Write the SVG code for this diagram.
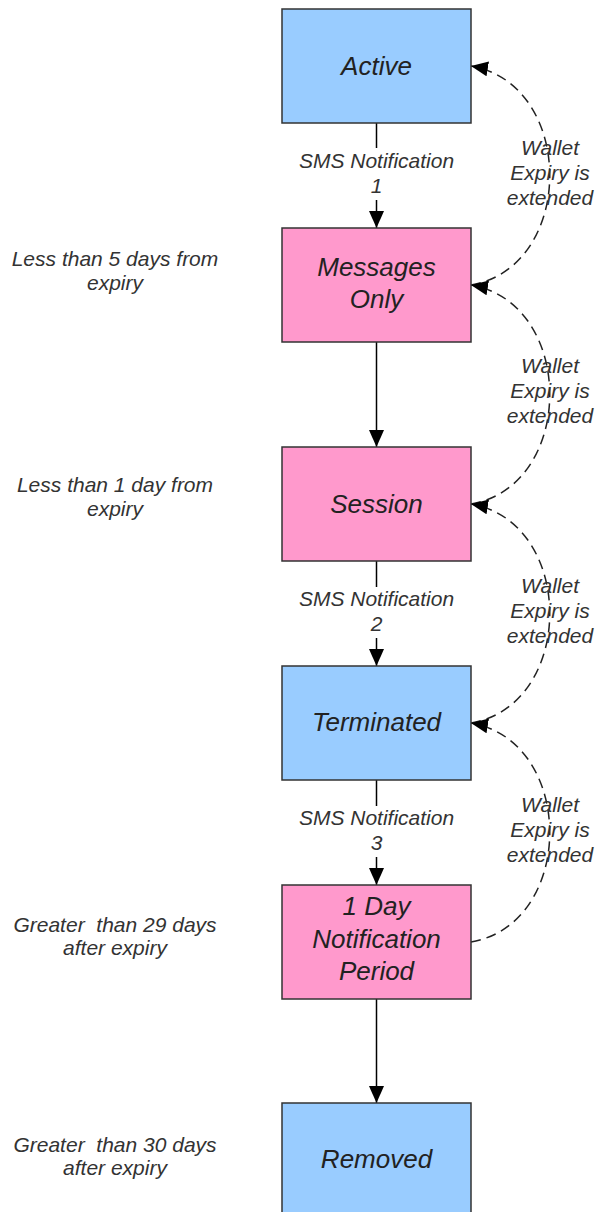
<svg xmlns="http://www.w3.org/2000/svg" width="597" height="1212" viewBox="0 0 597 1212">
<style>
.box{stroke:#333;stroke-width:1.5}
.blue{fill:#99CCFF}
.pink{fill:#FF99CC}
.nl{font-family:"Liberation Sans",Arial,sans-serif;font-style:italic;font-size:26px;fill:#222;text-anchor:middle}
.sl{font-family:"Liberation Sans",Arial,sans-serif;font-style:italic;font-size:21px;fill:#333;text-anchor:middle}
.solid{stroke:#000;stroke-width:1.5;fill:none}
.dash{stroke:#222;stroke-width:1.5;fill:none;stroke-dasharray:10,6}
</style>
<defs>
<marker id="ah" markerWidth="17" markerHeight="15" refX="17" refY="7.5" orient="auto" markerUnits="userSpaceOnUse" viewBox="0 0 17 15">
<path d="M0,0 L17,7.5 L0,15 z" fill="#000"/>
</marker>
</defs>
<g id="connectors">
<line class="solid" x1="376.5" y1="123" x2="376.5" y2="148"/>
<line class="solid" x1="376.5" y1="200" x2="376.5" y2="228" marker-end="url(#ah)"/>
<line class="solid" x1="376.5" y1="342" x2="376.5" y2="447" marker-end="url(#ah)"/>
<line class="solid" x1="376.5" y1="561" x2="376.5" y2="587"/>
<line class="solid" x1="376.5" y1="638" x2="376.5" y2="666" marker-end="url(#ah)"/>
<line class="solid" x1="376.5" y1="780" x2="376.5" y2="806"/>
<line class="solid" x1="376.5" y1="857" x2="376.5" y2="885" marker-end="url(#ah)"/>
<line class="solid" x1="376.5" y1="999" x2="376.5" y2="1103" marker-end="url(#ah)"/>
<path class="dash" d="M471,285 C576,267 576,84 471,66" marker-end="url(#ah)"/>
<path class="dash" d="M471,504 C576,486 576,303 471,285" marker-end="url(#ah)"/>
<path class="dash" d="M471,723 C576,705 576,522 471,504" marker-end="url(#ah)"/>
<path class="dash" d="M471,942 C576,924 576,741 471,723" marker-end="url(#ah)"/>
<text class="sl" x="376.5" y="168">SMS Notification</text>
<text class="sl" x="376.5" y="193">1</text>
<text class="sl" x="376.5" y="606">SMS Notification</text>
<text class="sl" x="376.5" y="631">2</text>
<text class="sl" x="376.5" y="825">SMS Notification</text>
<text class="sl" x="376.5" y="850">3</text>
<text class="sl" x="550" y="155">Wallet</text>
<text class="sl" x="550" y="180">Expiry is</text>
<text class="sl" x="550" y="205">extended</text>
<text class="sl" x="550" y="373">Wallet</text>
<text class="sl" x="550" y="398">Expiry is</text>
<text class="sl" x="550" y="423">extended</text>
<text class="sl" x="550" y="593">Wallet</text>
<text class="sl" x="550" y="618">Expiry is</text>
<text class="sl" x="550" y="643">extended</text>
<text class="sl" x="550" y="812">Wallet</text>
<text class="sl" x="550" y="837">Expiry is</text>
<text class="sl" x="550" y="862">extended</text>
</g>
<g id="active">
<rect class="box blue" x="282" y="9" width="189" height="114"/>
<text class="nl" x="376.5" y="75">Active</text>
</g>
<g id="messages-only">
<rect class="box pink" x="282" y="228" width="189" height="114"/>
<text class="nl" x="376.5" y="276">Messages</text>
<text class="nl" x="376.5" y="308">Only</text>
</g>
<g id="session">
<rect class="box pink" x="282" y="447" width="189" height="114"/>
<text class="nl" x="376.5" y="513">Session</text>
</g>
<g id="terminated">
<rect class="box blue" x="282" y="666" width="189" height="114"/>
<text class="nl" x="376.5" y="731">Terminated</text>
</g>
<g id="notification-period">
<rect class="box pink" x="282" y="885" width="189" height="114"/>
<text class="nl" x="376.5" y="915">1 Day</text>
<text class="nl" x="376.5" y="948">Notification</text>
<text class="nl" x="376.5" y="980">Period</text>
</g>
<g id="removed">
<rect class="box blue" x="282" y="1103" width="189" height="120"/>
<text class="nl" x="376.5" y="1168">Removed</text>
</g>
<g id="side-labels">
<text class="sl" x="115" y="266">Less than 5 days from</text>
<text class="sl" x="115" y="290">expiry</text>
<text class="sl" x="115" y="492">Less than 1 day from</text>
<text class="sl" x="115" y="516">expiry</text>
<text class="sl" x="115" y="932" xml:space="preserve">Greater  than 29 days</text>
<text class="sl" x="115" y="955">after expiry</text>
<text class="sl" x="115" y="1152" xml:space="preserve">Greater  than 30 days</text>
<text class="sl" x="115" y="1175">after expiry</text>
</g>
</svg>
